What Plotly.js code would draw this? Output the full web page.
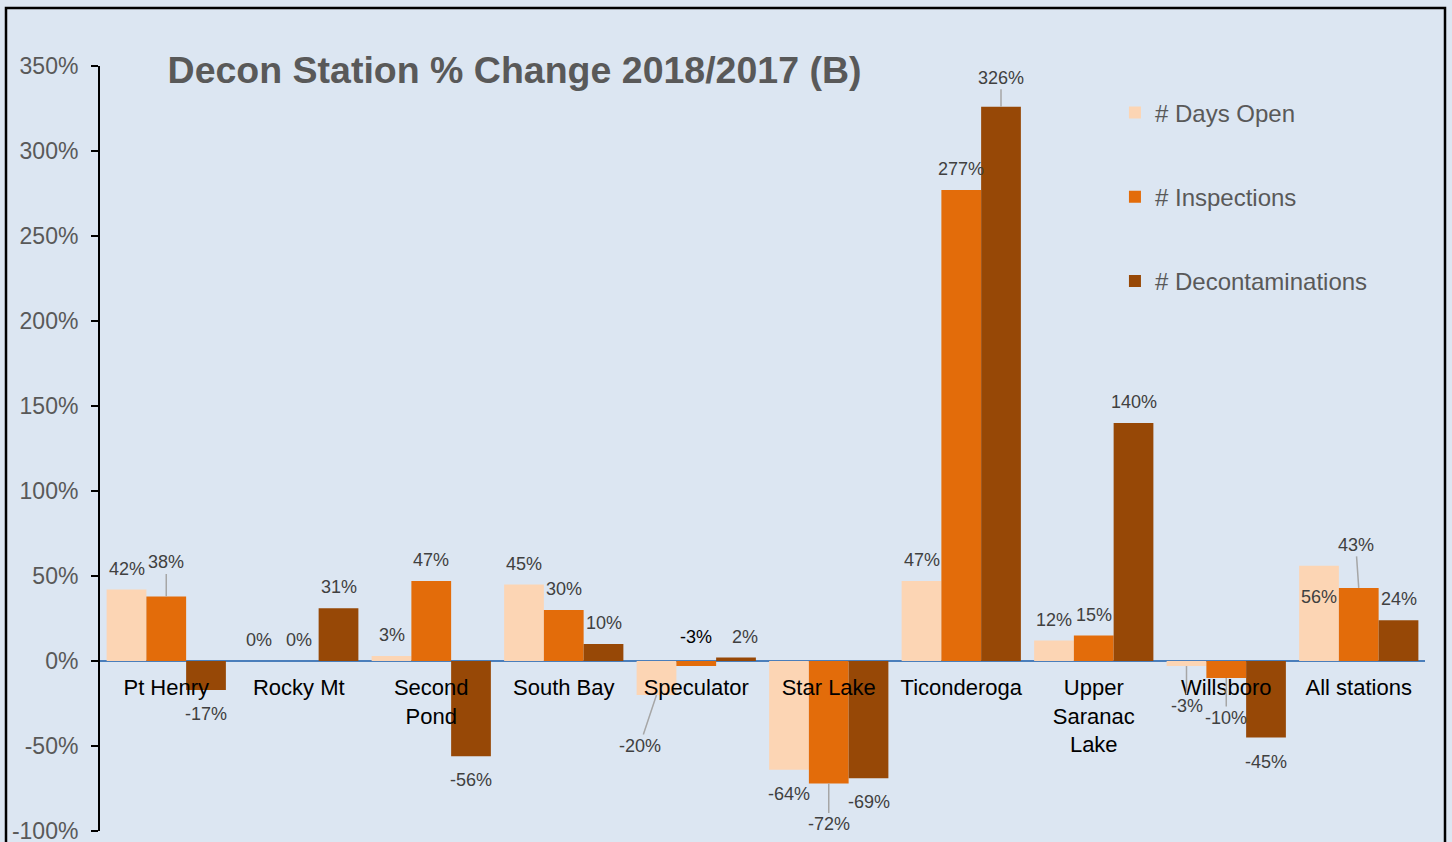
<!DOCTYPE html>
<html>
<head>
<meta charset="utf-8">
<script src="https://cdn.plot.ly/plotly-3.0.1.min.js"></script>
<style>
html,body{margin:0;padding:0;background:#ffffff;}
#chart{width:1452px;height:842px;}
</style>
</head>
<body>
<div id="chart"></div>
<script>
const categories = ["Pt Henry", "Rocky Mt", "Second<br>Pond", "South Bay", "Speculator", "Star Lake", "Ticonderoga", "Upper<br>Saranac<br>Lake", "Willsboro", "All stations"];
const daysOpen = [42, 0, 3, 45, -20, -64, 47, 12, -3, 56];
const inspections = [38, 0, 47, 30, -3, -72, 277, 15, -10, 43];
const decontaminations = [-17, 31, -56, 10, 2, -69, 326, 140, -45, 24];
const seriesNames = ["# Days Open", "# Inspections", "# Decontaminations"];
const seriesColors = ["#fcd5b4", "#e36c0a", "#974806"];
const yTicks = [-100, -50, 0, 50, 100, 150, 200, 250, 300, 350];

const FONT = "Liberation Sans, Arial, sans-serif";
const series = [daysOpen, inspections, decontaminations];
const traces = series.map((vals, i) => ({
  type: "bar",
  x: categories,
  y: vals,
  name: seriesNames[i],
  legendgroup: "g" + i,
  marker: {color: seriesColors[i], line: {width: 0}},
  hoverinfo: "x+y"
}));

// label placement tweaks (style only): key "series,category" -> offsets in px
const labelTweaks = {
  "1,0": {arrow: true, ax: 0, ay: -34},
  "0,4": {arrow: true, ax: -17, ay: 51},
  "1,4": {yshift: 29, color: "#000000"},
  "2,4": {xshift: 9},
  "1,5": {arrow: true, ax: 0, ay: 41},
  "2,6": {arrow: true, ax: 0, ay: -29},
  "0,8": {arrow: true, ax: 0, ay: 40},
  "1,8": {arrow: true, ax: 0, ay: 40},
  "0,9": {yshift: -31},
  "1,9": {arrow: true, ax: -3, ay: -43}
};

const annotations = [];
series.forEach((vals, i) => {
  vals.forEach((v, j) => {
    const t = labelTweaks[i + "," + j] || {};
    const a = {
      xref: "x", yref: "y",
      x: j + (i - 1) * 0.3,
      y: v,
      text: v + "%",
      font: {family: FONT, size: 18, color: t.color || "#404040"},
      xanchor: "center", yanchor: "middle"
    };
    if (t.arrow) {
      a.showarrow = true;
      a.arrowhead = 0;
      a.arrowwidth = 1.5;
      a.arrowcolor = "#a6a6a6";
      a.ax = t.ax; a.ay = t.ay;
      a.standoff = 0;
    } else {
      a.showarrow = false;
      a.yshift = (t.yshift !== undefined) ? t.yshift : (v >= 0 ? 21 : -24);
      a.xshift = t.xshift || 0;
    }
    annotations.push(a);
  });
});

const layout = {
  width: 1452,
  height: 842,
  paper_bgcolor: "#dce6f2",
  plot_bgcolor: "#dce6f2",
  margin: {l: 100, r: 27, t: 66, b: 11},
  barmode: "group",
  bargap: 0.1,
  bargroupgap: 0,
  font: {family: FONT},
  title: {
    text: "<b>Decon Station % Change 2018/2017 (B)</b>",
    font: {family: FONT, size: 37.5, color: "#595959"},
    xref: "paper", x: 0.051, xanchor: "left",
    yref: "container", y: 1 - 70/842, yanchor: "middle"
  },
  showlegend: true,
  legend: {
    x: 0.766, xanchor: "left", y: 0.968, yanchor: "top",
    bgcolor: "rgba(0,0,0,0)",
    font: {family: FONT, size: 24, color: "#595959"},
    traceorder: "grouped",
    tracegroupgap: 50,
    itemwidth: 30
  },
  xaxis: {
    type: "category",
    anchor: "free",
    position: 100/450,
    showline: false,
    showgrid: false,
    ticks: "",
    ticklabelstandoff: 11,
    tickfont: {family: FONT, size: 22, color: "#000000"},
    layer: "above traces"
  },
  yaxis: {
    range: [-100, 350],
    tickmode: "array",
    tickvals: yTicks,
    ticktext: yTicks.map(v => v + "%"),
    ticklabeloverflow: "allow",
    showgrid: false,
    zeroline: true,
    zerolinecolor: "#4a7ebb",
    zerolinewidth: 2,
    showline: true,
    linecolor: "#000000",
    linewidth: 2,
    ticks: "outside",
    ticklen: 7,
    tickwidth: 2,
    tickcolor: "#000000",
    ticklabelstandoff: 8,
    tickfont: {family: FONT, size: 23, color: "#595959"}
  },
  annotations: annotations,
  shapes: [{
    type: "rect", xref: "paper", yref: "paper",
    x0: (6-100)/1325, x1: (1445-100)/1325,
    y0: -0.05, y1: (831-8)/765,
    line: {color: "#000000", width: 2.5},
    fillcolor: "rgba(0,0,0,0)",
    layer: "above"
  }]
};

Plotly.newPlot("chart", traces, layout, {displayModeBar: false, responsive: false});
</script>
</body>
</html>
